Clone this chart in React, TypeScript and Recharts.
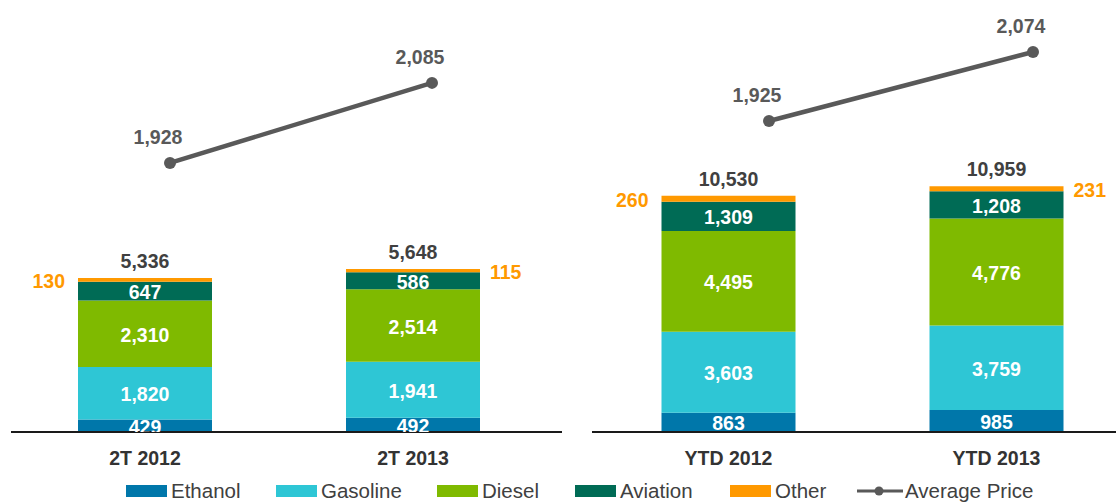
import React from "react";
import { ComposedChart, Bar, Line, XAxis, YAxis, LabelList } from "recharts";

// Quarter panel (2T = second quarter)
const quarterCategories = ["2T 2012", "2T 2013"];
const quarterEthanol = [429, 492];
const quarterGasoline = [1820, 1941];
const quarterDiesel = [2310, 2514];
const quarterAviation = [647, 586];
const quarterOther = [130, 115];
const quarterPrice = [1928, 2085];

// Year to date panel
const ytdCategories = ["YTD 2012", "YTD 2013"];
const ytdEthanol = [863, 985];
const ytdGasoline = [3603, 3759];
const ytdDiesel = [4495, 4776];
const ytdAviation = [1309, 1208];
const ytdOther = [260, 231];
const ytdPrice = [1925, 2074];

const FONT = "'Liberation Sans', Arial, Helvetica, sans-serif";
const PRICE_COLOR = "#595959";

const segments = [
	{ key: "ethanol", name: "Ethanol", color: "#0077AA", legendX: 126 },
	{ key: "gasoline", name: "Gasoline", color: "#2EC6D5", legendX: 276 },
	{ key: "diesel", name: "Diesel", color: "#7FBA00", legendX: 437 },
	{ key: "aviation", name: "Aviation", color: "#006B55", legendX: 575 },
	{ key: "other", name: "Other", color: "#FF9900", legendX: 730 },
];
const priceLegendX = 857;

type Row = {
	name: string;
	ethanol: number;
	gasoline: number;
	diesel: number;
	aviation: number;
	other: number;
	total: number;
	price: number;
};

function buildRows(
	names: string[],
	ethanol: number[],
	gasoline: number[],
	diesel: number[],
	aviation: number[],
	other: number[],
	price: number[],
): Row[] {
	return names.map((name, i) => ({
		name,
		ethanol: ethanol[i],
		gasoline: gasoline[i],
		diesel: diesel[i],
		aviation: aviation[i],
		other: other[i],
		total: ethanol[i] + gasoline[i] + diesel[i] + aviation[i] + other[i],
		price: price[i],
	}));
}

const quarterRows = buildRows(
	quarterCategories,
	quarterEthanol,
	quarterGasoline,
	quarterDiesel,
	quarterAviation,
	quarterOther,
	quarterPrice,
);
const ytdRows = buildRows(
	ytdCategories,
	ytdEthanol,
	ytdGasoline,
	ytdDiesel,
	ytdAviation,
	ytdOther,
	ytdPrice,
);

const fmt = (v: number) => v.toLocaleString("en-US");

function box(props: any) {
	const vb = props.viewBox ?? {};
	return {
		x: Number(props.x ?? vb.x),
		y: Number(props.y ?? vb.y),
		width: Number(props.width ?? vb.width),
		height: Number(props.height ?? vb.height),
	};
}

type PanelProps = {
	id: string;
	rows: Row[];
	width: number;
	marginLeft: number;
	marginRight: number;
	barPad: { left: number; right: number };
	linePad: { left: number; right: number };
	barMax: number;
	priceDomain: [number, number];
};

function Panel({
	id,
	rows,
	width,
	marginLeft,
	marginRight,
	barPad,
	linePad,
	barMax,
	priceDomain,
}: PanelProps) {
	// white value inside a segment; the bottom one is cut off at the axis line
	const innerLabel = (segKey: string) => (props: any) => {
		const { x, y, width: w, height: h } = box(props);
		const clip = `${id}-${segKey}-clip-${props.index}`;
		return (
			<g>
				<defs>
					<clipPath id={clip}>
						<rect x={x} y={y - 40} width={w} height={h + 40} />
					</clipPath>
				</defs>
				<text
					x={x + w / 2}
					y={y + h / 2 + 1}
					textAnchor="middle"
					dominantBaseline="central"
					fill="#fff"
					fontFamily={FONT}
					fontWeight="bold"
					fontSize={19.5}
					clipPath={`url(#${clip})`}
				>
					{fmt(Number(props.value))}
				</text>
			</g>
		);
	};

	const otherLabel = (props: any) => {
		const { x, y, width: w, height: h } = box(props);
		const onLeft = props.index === 0;
		return (
			<text
				x={onLeft ? x - 13 : x + w + 10}
				y={y + h / 2 + 1}
				textAnchor={onLeft ? "end" : "start"}
				dominantBaseline="central"
				fill="#FF9900"
				fontFamily={FONT}
				fontWeight="bold"
				fontSize={19.5}
			>
				{fmt(Number(props.value))}
			</text>
		);
	};

	const totalLabel = (props: any) => {
		const { x, y, width: w } = box(props);
		const row = rows[props.index];
		return (
			<text
				x={x + w / 2}
				y={y - 17}
				textAnchor="middle"
				dominantBaseline="central"
				fill="#404040"
				fontFamily={FONT}
				fontWeight="bold"
				fontSize={19.5}
			>
				{fmt(row.total)}
			</text>
		);
	};

	const priceLabel = (props: any) => {
		const { x, y } = box(props);
		return (
			<text
				x={x - 12}
				y={y - 26}
				textAnchor="middle"
				dominantBaseline="central"
				fill={PRICE_COLOR}
				fontFamily={FONT}
				fontWeight="bold"
				fontSize={19.5}
			>
				{fmt(Number(props.value))}
			</text>
		);
	};

	const categoryTick = (props: any) => (
		<text
			x={props.x}
			y={props.y + 26}
			textAnchor="middle"
			dominantBaseline="central"
			fill="#333"
			fontFamily={FONT}
			fontWeight="bold"
			fontSize={19.5}
		>
			{props.payload.value}
		</text>
	);

	return (
		<ComposedChart
			width={width}
			height={470}
			data={rows}
			margin={{ top: 10, right: marginRight, bottom: 8, left: marginLeft }}
		>
			<XAxis
				xAxisId="bar"
				dataKey="name"
				padding={barPad}
				height={30}
				interval={0}
				axisLine={{ stroke: "#1a1a1a", strokeWidth: 2 }}
				tickLine={false}
				tickSize={0}
				tickMargin={0}
				tick={categoryTick}
			/>
			<XAxis
				xAxisId="line"
				dataKey="name"
				scale="point"
				padding={linePad}
				hide
			/>
			<YAxis yAxisId="bar" hide domain={[0, barMax]} allowDataOverflow />
			<YAxis yAxisId="price" hide domain={priceDomain} allowDataOverflow />
			{segments.map((s) => (
				<Bar
					key={s.key}
					dataKey={s.key}
					name={s.name}
					stackId="volume"
					xAxisId="bar"
					yAxisId="bar"
					fill={s.color}
					barSize={134}
					isAnimationActive={false}
				>
					{s.key === "other" ? (
						<>
							<LabelList dataKey="other" content={otherLabel} />
							<LabelList dataKey="total" content={totalLabel} />
						</>
					) : (
						<LabelList dataKey={s.key} content={innerLabel(s.key)} />
					)}
				</Bar>
			))}
			<Line
				xAxisId="line"
				yAxisId="price"
				dataKey="price"
				name="Average Price"
				stroke={PRICE_COLOR}
				strokeWidth={4.5}
				dot={{ r: 6, fill: PRICE_COLOR, stroke: "none" }}
				isAnimationActive={false}
			>
				<LabelList dataKey="price" content={priceLabel} />
			</Line>
		</ComposedChart>
	);
}

function LegendRow() {
	const text: React.CSSProperties = {
		fontFamily: FONT,
		fontSize: 20.5,
		color: "#404040",
		lineHeight: "22px",
		whiteSpace: "nowrap",
	};
	const item = (left: number): React.CSSProperties => ({
		position: "absolute",
		left,
		top: 0,
		display: "flex",
		alignItems: "center",
		height: 22,
	});
	return (
		<div style={{ position: "absolute", left: 0, top: 480, width: 1116, height: 22 }}>
			{segments.map((s) => (
				<div key={s.key} style={item(s.legendX)}>
					<div
						style={{ width: 41, height: 12, background: s.color, marginRight: 4 }}
					/>
					<span style={text}>{s.name}</span>
				</div>
			))}
			<div style={item(priceLegendX)}>
				<svg width={46} height={14} style={{ marginRight: 2 }}>
					<line x1={0} y1={7} x2={46} y2={7} stroke={PRICE_COLOR} strokeWidth={3} />
					<circle cx={22} cy={7} r={4.5} fill={PRICE_COLOR} />
				</svg>
				<span style={text}>Average Price</span>
			</div>
		</div>
	);
}

export default function App() {
	return (
		<div
			style={{
				position: "absolute",
				left: 0,
				top: 0,
				width: 1116,
				height: 504,
				overflow: "hidden",
				background: "#fff",
			}}
		>
			<div style={{ position: "absolute", left: 0, top: 0 }}>
				<Panel
					id="q"
					rows={quarterRows}
					width={577}
					marginLeft={11}
					marginRight={15}
					barPad={{ left: 0, right: 15 }}
					linePad={{ left: 159, right: 130 }}
					barMax={14622}
					priceDomain={[1400, 2228]}
				/>
			</div>
			<div style={{ position: "absolute", left: 577, top: 0 }}>
				<Panel
					id="y"
					rows={ytdRows}
					width={560}
					marginLeft={15}
					marginRight={6.5}
					barPad={{ left: 2.5, right: 0 }}
					linePad={{ left: 177, right: 97.5 }}
					barMax={18814}
					priceDomain={[1253.5, 2164.7]}
				/>
			</div>
			<LegendRow />
		</div>
	);
}
